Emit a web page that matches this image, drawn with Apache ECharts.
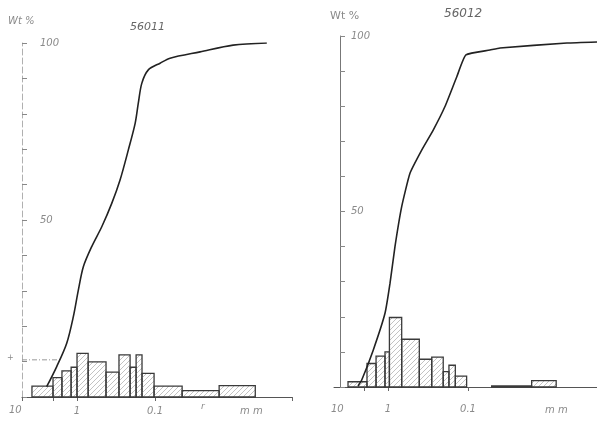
<!DOCTYPE html>
<html>
<head>
<meta charset="utf-8">
<script src="https://cdn.jsdelivr.net/npm/echarts@6/dist/echarts.min.js"></script>
<style>
html,body{margin:0;padding:0;background:#fff;}
#c{width:597px;height:422px;}
</style>
</head>
<body>
<div id="c"></div>
<script>
// ---- Sample 56011 (left) ----
const leftCurveSize = [2.45, 1.82, 1.355, 1.115, 0.962, 0.83, 0.648, 0.482, 0.359, 0.281, 0.22, 0.18, 0.164, 0.148, 0.122, 0.0862, 0.0643, 0.0265, 0.01, 0.0037];
const leftCurvePct  = [2.9, 8.6, 15.2, 22.7, 30.2, 36.8, 42.5, 48.1, 54.7, 61.3, 69.8, 77.3, 83.0, 88.6, 92.4, 94.3, 95.7, 97.5, 99.4, 100];
const leftBinEdges  = [3.78, 2.03, 1.56, 1.19, 1.0, 0.72, 0.425, 0.29, 0.209, 0.175, 0.147, 0.103, 0.045, 0.0151, 0.0052];
const leftBinPct    = [3.1, 5.5, 7.4, 8.4, 12.3, 9.9, 7.0, 11.9, 8.4, 11.9, 6.7, 3.1, 1.8, 3.2];

// ---- Sample 56012 (right) ----
const rightCurveSize = [2.37, 2.13, 1.53, 1.09, 0.944, 0.818, 0.674, 0.531, 0.379, 0.272, 0.194, 0.138, 0.106, 0.0531, 0.0398, 0.00579, 0.00244];
const rightCurvePct  = [0.3, 2.0, 10.5, 21.0, 29.5, 40.0, 51.4, 60.9, 67.5, 73.2, 79.9, 88.4, 94.6, 96.0, 96.6, 98.0, 98.3];
const rightBinEdges  = [3.16, 1.83, 1.41, 1.09, 0.96, 0.674, 0.406, 0.284, 0.204, 0.173, 0.144, 0.104, 0.0506, 0.016, 0.0079];
const rightBinPct    = [1.5, 6.7, 8.8, 10.0, 19.8, 13.6, 7.9, 8.5, 4.4, 6.2, 3.1, 0, 0.3, 1.8];

const titles = ['56011', '56012'];
const xTickLabels = [1, 0.1];
const yTickLabels = [50, 100];

function pairs(xs, ys) { return xs.map((x, i) => [x, ys[i]]); }
function bins(edges, h) {
  const out = [];
  for (let i = 0; i < h.length; i++) {
    if (h[i] > 0) out.push([edges[i], edges[i + 1], h[i]]);
  }
  return out;
}

// hatch pattern
const pc = document.createElement('canvas');
pc.width = 5; pc.height = 5;
const g = pc.getContext('2d');
g.strokeStyle = '#b4b4b4';
g.lineWidth = 0.8;
g.beginPath();
g.moveTo(0, 5); g.lineTo(5, 0);
g.moveTo(-1, 1); g.lineTo(1, -1);
g.moveTo(4, 6); g.lineTo(6, 4);
g.stroke();
const hatch = { image: pc, repeat: 'repeat' };

function renderBar(params, api) {
  const a = api.coord([api.value(0), api.value(2)]);
  const b = api.coord([api.value(1), 0]);
  return {
    type: 'rect',
    shape: { x: Math.min(a[0], b[0]), y: a[1], width: Math.abs(b[0] - a[0]), height: b[1] - a[1] },
    style: { fill: hatch, stroke: '#3a3a3a', lineWidth: 1.3 }
  };
}

const textCol = '#8a8a8a';
const fontFam = '"DejaVu Sans", sans-serif';

function xAxisDef(idx, min, max, margin) {
  return {
    type: 'log', logBase: 10, gridIndex: idx, inverse: true, min: min, max: max,
    axisLine: { show: true, lineStyle: { color: '#555', width: 1 } },
    axisTick: { show: true, customValues: idx === 0 ? [5.07, 2, 1, 0.1, 0.00176] : [2, 1, 0.1], length: 4, lineStyle: { color: '#666' } },
    axisLabel: { customValues: xTickLabels, formatter: v => String(+v.toPrecision(3)), color: textCol, fontStyle: 'italic', fontFamily: fontFam, fontSize: 10, margin: margin },
    splitLine: { show: false }, minorTick: { show: false }
  };
}
function yAxisDef(idx, dashed, margin, offset) {
  return {
    type: 'value', gridIndex: idx, min: 0, max: 100, interval: 10, offset: offset,
    axisLine: { show: true, lineStyle: { color: dashed ? '#b0b0b0' : '#777', type: dashed ? [6, 3] : 'solid', width: 1 } },
    axisTick: { show: true, inside: true, length: 5, lineStyle: { color: '#888' } },
    axisLabel: { inside: true, margin: margin, formatter: v => yTickLabels.includes(v) ? String(v) : '', color: textCol, fontStyle: 'italic', fontFamily: fontFam, fontSize: 10 },
    splitLine: { show: false }
  };
}

const chart = echarts.init(document.getElementById('c'), null, { renderer: 'canvas' });
chart.setOption({
  backgroundColor: '#fff',
  animation: false,
  grid: [
    { left: 22, top: 43, width: 270, height: 354 },
    { left: 334, top: 36, width: 263, height: 351 }
  ],
  xAxis: [ xAxisDef(0, 0.00176, 5.07, 9), xAxisDef(1, 0.00244, 4.73, 17) ],
  yAxis: [ yAxisDef(0, true, 18, 0), yAxisDef(1, false, 11, -6) ],
  graphic: [
    { type: 'text', left: 8, top: 16, style: { text: 'Wt %', fill: textCol, font: 'italic 10px ' + fontFam } },
    { type: 'text', left: 330, top: 11, style: { text: 'Wt %', fill: textCol, font: '11px ' + fontFam } },
    { type: 'text', left: 130, top: 22, style: { text: titles[0], fill: '#666', font: 'italic 11px ' + fontFam } },
    { type: 'text', left: 444, top: 8, style: { text: titles[1], fill: '#666', font: 'italic 12px ' + fontFam } },
    { type: 'text', left: 9, top: 405, style: { text: '10', fill: textCol, font: 'italic 10px ' + fontFam } },
    { type: 'text', left: 331, top: 404, style: { text: '10', fill: textCol, font: 'italic 10px ' + fontFam } },
    { type: 'text', left: 240, top: 406, style: { text: 'm m', fill: textCol, font: 'italic 10px ' + fontFam } },
    { type: 'text', left: 545, top: 405, style: { text: 'm m', fill: textCol, font: 'italic 10px ' + fontFam } },
    { type: 'text', left: 201, top: 402, style: { text: 'r', fill: textCol, font: 'italic 9px ' + fontFam } },
    { type: 'text', left: 7, top: 354, style: { text: '+', fill: textCol, font: '8px ' + fontFam } }
  ],
  series: [
    { type: 'custom', xAxisIndex: 0, yAxisIndex: 0, renderItem: renderBar, encode: { x: [0, 1], y: 2 }, data: bins(leftBinEdges, leftBinPct), z: 2 },
    { type: 'custom', xAxisIndex: 1, yAxisIndex: 1, renderItem: renderBar, encode: { x: [0, 1], y: 2 }, data: bins(rightBinEdges, rightBinPct), z: 2 },
    { type: 'line', xAxisIndex: 0, yAxisIndex: 0, data: pairs(leftCurveSize, leftCurvePct), smooth: 0.3, showSymbol: false, lineStyle: { color: '#222', width: 1.6 }, z: 3 },
    { type: 'line', xAxisIndex: 1, yAxisIndex: 1, data: pairs(rightCurveSize, rightCurvePct), smooth: 0.15, showSymbol: false, lineStyle: { color: '#222', width: 1.6 }, z: 3 },
    { type: 'line', xAxisIndex: 0, yAxisIndex: 0, data: [[5.07, 10.5], [1.65, 10.5]], showSymbol: false, lineStyle: { color: '#999', width: 1, type: [5, 2, 1, 2] }, z: 1 }
  ]
});
</script>
</body>
</html>
